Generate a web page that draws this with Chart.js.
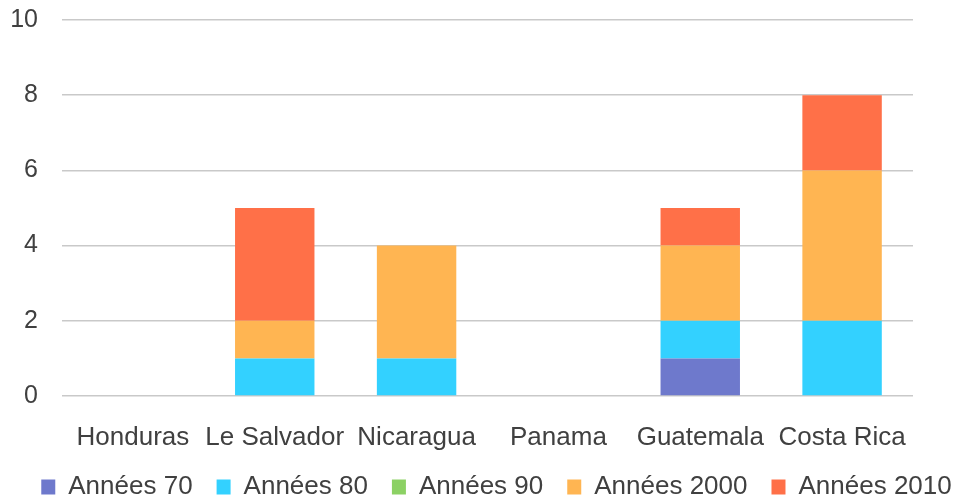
<!DOCTYPE html>
<html>
<head>
<meta charset="utf-8">
<script src="https://cdn.jsdelivr.net/npm/chart.js@4/dist/chart.umd.min.js"></script>
<style>
  html, body { margin: 0; padding: 0; background: #fff; }
  #wrap { width: 963px; height: 497px; }
</style>
</head>
<body>
<div id="wrap"><canvas id="chart" width="963" height="497"></canvas></div>
<script>
// stacked bars per country, one series per decade
const pays = ['Honduras', 'Le Salvador', 'Nicaragua', 'Panama', 'Guatemala', 'Costa Rica'];
const annees70 = [0, 0, 0, 0, 1, 0];
const annees80 = [0, 1, 1, 0, 1, 2];
const annees90 = [0, 0, 0, 0, 0, 0];
const annees2000 = [0, 1, 3, 0, 2, 4];
const annees2010 = [0, 3, 0, 0, 1, 2];
const yTicks = [0, 2, 4, 6, 8, 10];

const textColor = '#404040';
const gridColor = '#c9c9c9';
const font = "'Liberation Sans', Arial, sans-serif";

function serie(label, data, color){
    return {
        label: label,
        data: data,
        backgroundColor: color,
        borderWidth: 0,
        categoryPercentage: 1,
        barPercentage: 0.56
    };
}

// legend is centred a bit left of the reference, nudge it
const legendShift = {
    id: 'legendShift',
    afterLayout(chart){
        chart.legend.left += 15;
        chart.legend.right += 15;
    }
};

const ctx = document.getElementById('chart').getContext('2d');
new Chart(ctx, {
    type: 'bar',
    data: {
        labels: pays,
        datasets: [
            serie('Années 70', annees70, '#6e79cc'),
            serie('Années 80', annees80, '#33d1ff'),
            serie('Années 90', annees90, '#8cd164'),
            serie('Années 2000', annees2000, '#ffb552'),
            serie('Années 2010', annees2010, '#ff7048')
        ]
    },
    plugins: [legendShift],
    options: {
        responsive: false,
        animation: false,
        layout: {
            padding: { left: 0, right: 0, top: 20, bottom: -13 }
        },
        plugins: {
            legend: {
                position: 'bottom',
                labels: {
                    boxWidth: 14,
                    boxHeight: 15,
                    padding: 24,
                    color: textColor,
                    font: { family: font, size: 26 }
                }
            },
            tooltip: { enabled: false }
        },
        scales: {
            x: {
                stacked: true,
                afterFit: function(axis){
                    axis.height = 54;
                },
                grid: { display: false },
                border: { display: false },
                ticks: {
                    color: textColor,
                    padding: 18,
                    maxRotation: 0,
                    font: { family: font, size: 26 }
                }
            },
            y: {
                stacked: true,
                min: 0,
                max: 10,
                afterBuildTicks: function(axis){
                    axis.ticks = yTicks.map(v => ({ value: v }));
                },
                afterFit: function(axis){
                    axis.width = 62;
                },
                grid: {
                    color: gridColor,
                    lineWidth: 1.5,
                    drawTicks: true,
                    tickLength: 24,
                    tickColor: 'rgba(0,0,0,0)'
                },
                border: { display: false },
                ticks: {
                    color: textColor,
                    padding: 0,
                    font: { family: font, size: 25 }
                }
            },
            // empty axis on the right, only keeps the plot away from the edge
            yRight: {
                position: 'right',
                grid: { display: false },
                border: { display: false },
                ticks: { display: false },
                afterFit: function(axis){
                    axis.width = 50;
                }
            }
        }
    }
});
</script>
</body>
</html>
